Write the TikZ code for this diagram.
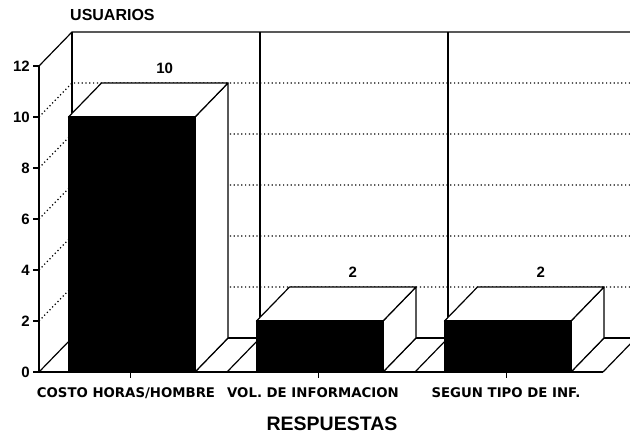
\documentclass[tikz,border=0pt]{standalone}
\usepackage{fontspec}
\setmainfont{Liberation Sans}
\newfontfamily\catfont{DejaVu Sans}

\begin{document}
\begin{tikzpicture}[x=1pt,y=-1pt]
    \tikzstyle{every node} = [font=\bfseries\fontsize{15}{18}\selectfont]
    \tikzstyle{wall} = [line width=1.2pt]
    \tikzstyle{gridline} = [line width=1.2pt, dash pattern=on 1.2pt off 2.6pt]
    \tikzstyle{face} = [draw, fill=white, line width=1.2pt, line join=round]
    \tikzstyle{barfront} = [draw, fill=black, line width=1.2pt]
    \tikzstyle{catlabel} = [font=\catfont\bfseries\fontsize{13.3}{16}\selectfont]
    \useasboundingbox (0,0) rectangle (630,434);
    \clip (0,0) rectangle (630,434);
    % corners of the box
    \coordinate (origin) at (39,372);
    \coordinate (axistop) at (39,66);
    \coordinate (backorigin) at (72,338);
    \coordinate (backtop) at (72,32);
    % dotted grid on the back wall
    \foreach \v in {2,4,...,10}
        \draw[gridline] (39,{372-25.5*\v}) -- ++(33,-34) -- (640,{338-25.5*\v});
    % back wall and floor
    \draw[wall] (axistop) -- (backtop) -- (640,32);
    \draw[wall] (backorigin) -- (640,338);
    \foreach \i in {0,1,2,3}
        \draw[wall] ({72+188*\i},32) -- ({72+188*\i},338);
    \foreach \i in {0,1,2,3}
        \draw[wall] ({39+188*\i},372) -- ++(33,-34);
    \foreach \i in {0,1,2}
        \draw[wall] ({39+188*\i+156},372) -- ++(33,-34);
    % front axis
    \draw[wall] (axistop) -- (origin) -- (603,372);
    \foreach \v in {0,2,...,12} {
        \draw[wall] (33,{372-25.5*\v}) -- (39,{372-25.5*\v});
        \node[anchor=east,inner sep=0pt] (usr\v) at (30,{372-25.5*\v}) {\v};
    }
    \foreach \i in {0,1,2}
        \draw[wall] ({39+188*\i+91.5},372) -- ++(0,6);
    % bars
    \foreach \i/\v in {0/10,1/2,2/2} {
        \pgfmathsetmacro\xl{39+188*\i+29.5}
        \pgfmathsetmacro\xr{39+188*\i+156}
        \pgfmathsetmacro\yt{372-25.5*\v}
        \draw[face] (\xr,372) -- (\xr,\yt) -- ++(33,-34) -- ++(0,{372-\yt}) -- cycle;
        \draw[face] (\xl,\yt) -- ++(33,-34) -- ({\xr+33},{\yt-34}) -- (\xr,\yt) -- cycle;
        \draw[barfront] (\xl,\yt) rectangle (\xr,372);
        \node (val\i) at ({(\xl+\xr)/2+33},{\yt-49}) {\v};
    }
    % labels
    \node[anchor=west,inner sep=0pt,font=\bfseries\fontsize{16}{19}\selectfont] (usuarios) at (70,15) {USUARIOS};
    \node[catlabel] (costo) at (126,393) {COSTO HORAS/HOMBRE};
    \node[catlabel] (volumen) at (313,393) {VOL. DE INFORMACION};
    \node[catlabel] (segun) at (506,393) {SEGUN TIPO DE INF.};
    \node[inner sep=0pt,font=\bfseries\fontsize{19.5}{23}\selectfont] (respuestas) at (332,424) {RESPUESTAS};
\end{tikzpicture}
\end{document}
